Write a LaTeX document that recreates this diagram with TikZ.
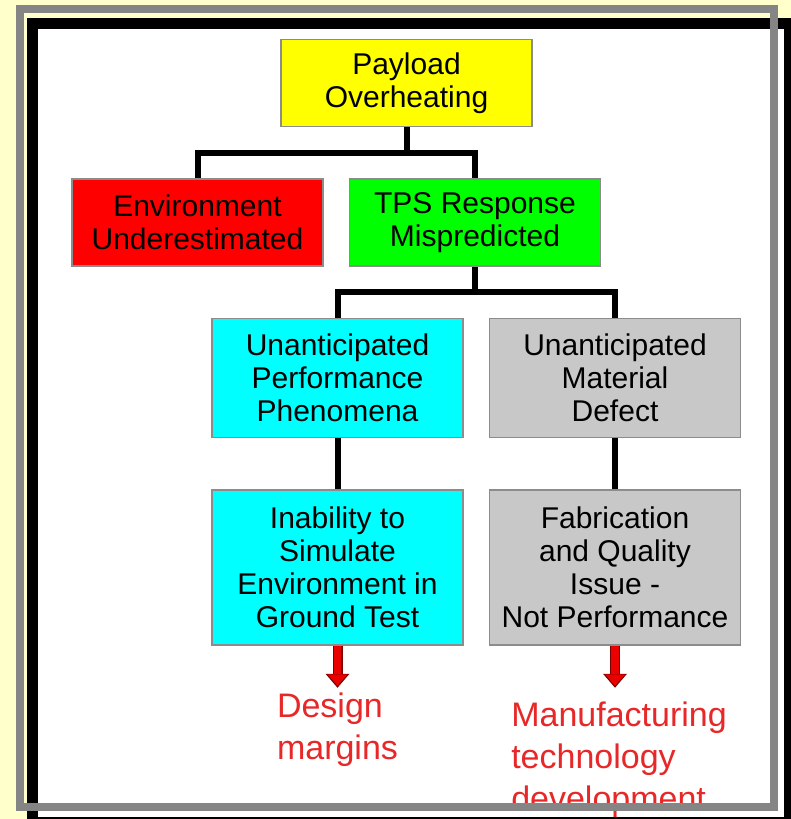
\documentclass[tikz,border=0pt]{standalone}
\usepackage{fontspec}
\setmainfont{Liberation Sans}
\usepackage{xcolor}
\usepackage{tikz}
\usetikzlibrary{arrows.meta, positioning}

\definecolor{paper}{RGB}{255,255,204}
\definecolor{boxyellow}{RGB}{255,255,0}
\definecolor{boxred}{RGB}{255,0,0}
\definecolor{boxgreen}{RGB}{0,255,0}
\definecolor{boxcyan}{RGB}{0,255,255}
\definecolor{boxgray}{RGB}{200,200,200}
\definecolor{outcomered}{RGB}{232,40,40}
\definecolor{arrowrim}{RGB}{120,0,0}
\definecolor{arrowfill}{RGB}{235,0,0}

\begin{document}
\begin{tikzpicture}[
    x=1pt, y=-1pt,
    node distance=51pt and 25pt,
    cause/.style={
        rectangle, draw=black!45, line width=1.5pt, inner sep=0pt,
        minimum width=251pt, minimum height=87pt, align=center,
        font=\fontsize{30}{33}\selectfont
    },
    outcome/.style={
        inner sep=0pt, align=left, text=outcomered,
        font=\fontsize{34}{42}\selectfont
    },
    link/.style={line width=6pt, draw=black},
    rim/.style={draw=arrowrim, line width=10pt,
        -{Triangle[width=24pt, length=14pt, line width=0pt]}},
    body/.style={draw=arrowfill, line width=7.5pt,
        -{Triangle[width=20pt, length=11.5pt, line width=0pt]}}
]
    \useasboundingbox (0,0) rectangle (791,819);
    \fill[paper] (0,0) rectangle (791,819);
    \draw[line width=10.5pt, fill=white] (32.5,23.5) rectangle (789.5,822);

    \node[cause, fill=boxyellow] (payload) at (406.5,83) {Payload\\Overheating};
    \node[cause, fill=boxgreen, below=of payload, xshift=68.5pt] (tps) {TPS Response\\Mispredicted};
    \node[cause, fill=boxred, left=of tps] (environment) {Environment\\Underestimated};

    \node[cause, fill=boxcyan, minimum height=119pt, below=of tps, xshift=-137.5pt] (phenomena) {Unanticipated\\Performance\\Phenomena};
    \node[cause, fill=boxgray, minimum height=119pt, right=of phenomena] (defect) {Unanticipated\\Material\\Defect};

    \node[cause, fill=boxcyan, minimum height=155pt, below=of phenomena] (simulate) {Inability to\\Simulate\\Environment in\\Ground Test};
    \node[cause, fill=boxgray, minimum height=155pt, below=of defect] (fabrication) {Fabrication\\and Quality\\Issue -\\Not Performance};

    \node[outcome, below=47pt of simulate] (margins) {Design\\margins};
    \node[outcome, below=56pt of fabrication, xshift=4pt] (manufacturing) {Manufacturing\\technology\\development};

    \draw[link] (payload.south) -- ++(0,25.5) -| (environment.north);
    \draw[link] (payload.south) -- ++(0,25.5) -| (tps.north);
    \draw[link] (tps.south) -- ++(0,25.5) -| (phenomena.north);
    \draw[link] (tps.south) -- ++(0,25.5) -| (defect.north);
    \draw[link] (phenomena) -- (simulate);
    \draw[link] (defect) -- (fabrication);

    \draw[rim, shorten >=5pt] (simulate.south) -- (simulate.south |- margins.north);
    \draw[body, shorten >=7pt] (simulate.south) -- (simulate.south |- margins.north);
    \draw[rim, shorten >=14pt] (fabrication.south) -- (fabrication.south |- manufacturing.north);
    \draw[body, shorten >=16pt] (fabrication.south) -- (fabrication.south |- manufacturing.north);

    \draw[line width=8pt, draw=black!48] (20,9) rectangle (774,807);
\end{tikzpicture}
\end{document}
